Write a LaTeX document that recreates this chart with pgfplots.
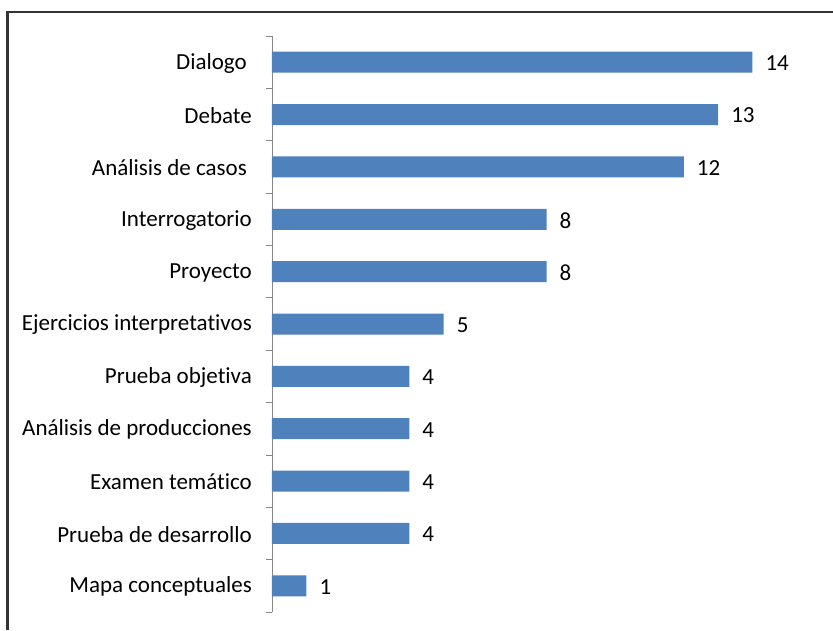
\documentclass[border=0pt]{standalone}
\usepackage{fontspec}
\setmainfont[Ligatures={NoCommon}]{Carlito}
\usepackage{pgfplots}
\pgfplotsset{compat=1.18}
\definecolor{barblue}{HTML}{4F81BD}
\definecolor{axgray}{HTML}{868686}
\newcommand{\lblfont}{\fontsize{23}{27}\selectfont}
\newcommand{\nl}{\kern0pt}
\begin{document}
\begin{tikzpicture}
\useasboundingbox (0pt,0pt) rectangle (833pt,630pt);
\fill[white] (0pt,0pt) rectangle (833pt,630pt);
\draw[black!80, line width=2.2pt] (7.5pt,0pt) -- (7.5pt,618pt) -- (833pt,618pt);
\begin{axis}[
  at={(272pt,18pt)}, anchor=south west,
  scale only axis, width=549pt, height=576pt,
  xbar, bar width=21pt,
  xmin=0, xmax=16,
  ymin=-0.5, ymax=10.5,
  enlargelimits=false,
  clip=false,
  /pgf/number format/assume math mode=true,
  axis x line=none,
  axis y line=left,
  axis line style={-, draw=axgray, line width=0.8pt},
  ytick={0,...,10},
  yticklabels={Mapa conceptuales, Prueba de desarrollo, Examen temát\nl ico, Análisis de producciones, Prueba objet\nl iva, Ejercicios interpretat\nl ivos, Proyecto, Interrogatorio, {Análisis de casos\hspace*{5pt}}, Debate, {Dialogo\hspace*{5pt}}},
  major tick length=0pt,
  minor ytick={-0.5,0.5,...,10.5},
  minor tick length=6pt,
  tick align=outside,
  minor tick style={draw=axgray, line width=0.8pt},
  yticklabel style={font=\lblfont, anchor=east, inner sep=0pt, xshift=-20pt, yshift=-1pt, text=black},
  nodes near coords,
  nodes near coords style={font=\lblfont, anchor=west, inner sep=0pt, xshift=13pt, yshift=-1pt, text=black},
]
\addplot[fill=barblue, draw=none] coordinates {
  (1,0) (4,1) (4,2) (4,3) (4,4) (5,5) (8,6) (8,7) (12,8) (13,9) (14,10)
};
\end{axis}
\end{tikzpicture}
\end{document}
